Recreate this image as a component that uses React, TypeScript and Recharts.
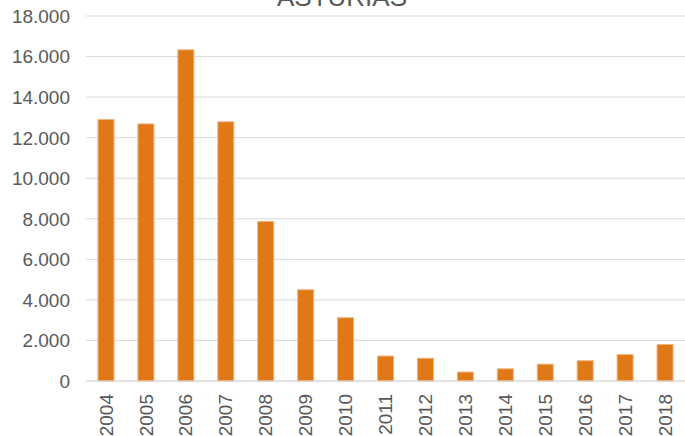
import React from "react";
import { BarChart, Bar, XAxis, YAxis, CartesianGrid } from "recharts";

const years = ["2004","2005","2006","2007","2008","2009","2010","2011","2012","2013","2014","2015","2016","2017","2018"];
const values = [12900, 12680, 16330, 12780, 7870, 4500, 3120, 1230, 1120, 440, 600, 830, 1000, 1300, 1800];
const yTicks = [0, 2000, 4000, 6000, 8000, 10000, 12000, 14000, 16000, 18000];
const title = "ASTURIAS";

const data = years.map((y, i) => ({ year: y, value: values[i] }));

const fmt = (v: number) => v.toLocaleString("de-DE");

const FONT = "'Liberation Sans', Arial, sans-serif";
const TXT = "#595959";

const XTick = (props: any) => {
  const { x, payload } = props;
  const yy = 394;
  return (
    <text x={x} y={yy} transform={`rotate(-90, ${x}, ${yy})`} textAnchor="end" dy="0.35em"
      fill={TXT} fontSize={19} fontFamily={FONT}>{payload.value}</text>
  );
};

const YTick = (props: any) => {
  const { y, payload } = props;
  return (
    <text x={70} y={y} textAnchor="end" dy="0.36em" fill={TXT} fontSize={19} fontFamily={FONT}>
      {fmt(payload.value)}
    </text>
  );
};

export default function App() {
  return (
    <div style={{ position: "absolute", left: 0, top: 0, width: 685, height: 436, background: "#fff", overflow: "hidden" }}>
      <BarChart width={685} height={436} data={data} margin={{ top: 16, right: 0, bottom: 0, left: 0 }}>
        <CartesianGrid vertical={false} stroke="#d9d9d9" strokeWidth={1} />
        <XAxis dataKey="year" height={55} axisLine={{ stroke: "#d9d9d9" }} tickLine={false} tick={<XTick />} interval={0} />
        <YAxis width={86} domain={[0, 18000]} ticks={yTicks} axisLine={false} tickLine={false} tick={<YTick />} interval={0} />
        <Bar dataKey="value" fill="#E07818" stroke="#EFB27C" strokeWidth={1} barSize={16} isAnimationActive={false} />
      </BarChart>
      <svg width={685} height={30} style={{ position: "absolute", left: 0, top: 0 }}>
        <text x={342} y={6} textAnchor="middle" fill={TXT} fontSize={26} fontFamily={FONT}>{title}</text>
      </svg>
    </div>
  );
}
